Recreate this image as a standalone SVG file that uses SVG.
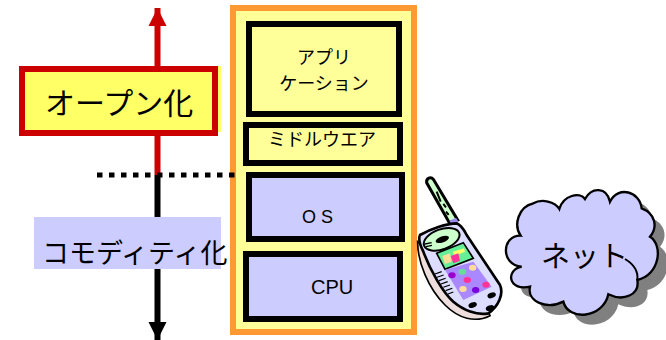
<svg xmlns="http://www.w3.org/2000/svg" width="666" height="340" viewBox="0 0 666 340">
<style>
text{font-family:"Noto Sans CJK JP","Liberation Sans",sans-serif;fill:#000}
.lat{font-family:"Liberation Sans",Arial,sans-serif}
.box{stroke:#000;stroke-width:6}
.y{fill:#ffff99}
.l{fill:#ccccff}
</style>
<defs>
<marker id="ar" markerUnits="userSpaceOnUse" markerWidth="19" markerHeight="19" refX="18" refY="9.5" orient="auto"><path d="M0,0.5L18,9.5L0,18.5Z" fill="#cc0000"/></marker>
<marker id="ab" markerUnits="userSpaceOnUse" markerWidth="19" markerHeight="19" refX="18" refY="9.5" orient="auto"><path d="M0,0.5L18,9.5L0,18.5Z" fill="#000"/></marker>
<path id="cl" d="M62,152C40,120 55,65 100,55C125,40 165,50 178,72C190,30 240,20 255,42C275,5 320,5 330,50C355,0 420,20 425,70C465,85 475,125 450,155C490,180 480,270 412,285C420,330 370,350 325,328C310,400 205,410 190,350C140,375 80,350 90,305C25,320 15,255 65,245C0,240 5,150 62,152Z"/>
</defs>
<g id="connectors">
<line x1="157.5" y1="175" x2="157.5" y2="8" stroke="#cc0000" stroke-width="6" marker-end="url(#ar)"/>
<line x1="157.5" y1="175" x2="157.5" y2="340" stroke="#000" stroke-width="6" marker-end="url(#ab)"/>
</g>
<g id="open">
<rect x="22" y="66" width="199" height="66" fill="#ffff66"/>
<rect x="22" y="69" width="193" height="64" fill="#ffff66" stroke="#cc0000" stroke-width="6"/>
<text x="45" y="114" font-size="30">オープン化</text>
</g>
<g id="commodity">
<rect x="34" y="217" width="187" height="52" fill="#ccccff"/>
<text x="42" y="263" font-size="27">コモディティ化</text>
</g>
<g id="stack">
<rect x="233" y="8" width="181" height="324" fill="#ffff99" stroke="#ff9933" stroke-width="6"/>
</g>
<g id="app">
<rect class="box y" x="249" y="24" width="150" height="90"/>
<text x="324" y="64" font-size="18" text-anchor="middle">アプリ</text>
<text x="324" y="90" font-size="18" text-anchor="middle">ケーション</text>
</g>
<g id="middleware">
<rect class="box y" x="246" y="125" width="154" height="38"/>
<text x="268" y="146" font-size="18">ミドルウエア</text>
</g>
<g id="os">
<rect class="box l" x="249" y="175" width="153" height="64"/>
<text class="lat" x="302" y="223" font-size="18">O S</text>
</g>
<g id="cpu">
<rect class="box l" x="246" y="254" width="154" height="65"/>
<text class="lat" x="311" y="294" font-size="20">CPU</text>
</g>
<line id="divider" x1="97" y1="175" x2="235" y2="175" stroke="#000" stroke-width="5" stroke-dasharray="5.5 6.5"/>
<g id="phone" transform="translate(410 170) scale(.3333)">
<path fill="#ccffcc" stroke="#000" stroke-width="9" d="M50,38C48,25 62,18 70,28L143,150L118,158Z"/>
<path d="M118,152L138,143L146,156L124,162Z" fill="#9988ee"/>
<path d="M80,65L92,95M100,102L108,112M108,125L116,135" stroke="#000" stroke-width="6" fill="none"/>
<path d="M23,215C22,275 55,355 105,405C145,445 195,460 240,437L200,350Z" fill="#eedddd" stroke="#000" stroke-width="5"/>
<path d="M30,195C60,178 110,160 140,160C152,165 160,175 170,195L270,345C282,372 265,410 235,430C200,437 160,420 130,395C100,370 60,300 40,245C30,225 25,205 30,195Z" fill="#ddddff" stroke="#000" stroke-width="8"/>
<ellipse cx="95" cy="208" rx="56" ry="30" transform="rotate(-20 95 208)" fill="#ccffcc" stroke="#000" stroke-width="6"/>
<ellipse cx="97" cy="208" rx="21" ry="9" transform="rotate(-20 97 208)" fill="#000"/>
<path d="M45,222L65,218M48,230L66,226" stroke="#000" stroke-width="4"/>
<path d="M80,250L160,218L190,265L105,298Z" fill="#66ee99" stroke="#000" stroke-width="5"/>
<path d="M128,245L162,235L165,245L133,258Z" fill="#ffff66"/>
<path d="M97,258L120,250L125,275L105,282Z" fill="#ffdd99"/>
<path d="M122,258L145,250L150,272L130,280Z" fill="#ff3399"/>
<path d="M105,300L190,275L245,350L160,390Z" fill="#aa88ff"/>
<ellipse cx="126" cy="316" rx="11" ry="9" fill="#9900cc"/>
<ellipse cx="157" cy="305" rx="11" ry="9" fill="#66dd99"/>
<ellipse cx="188" cy="293" rx="11" ry="9" fill="#ffdd99"/>
<ellipse cx="172" cy="330" rx="11" ry="9" fill="#ff3399"/>
<ellipse cx="159" cy="357" rx="11" ry="9" fill="#ffdd99"/>
<ellipse cx="197" cy="360" rx="11" ry="9" fill="#7700dd"/>
<ellipse cx="228" cy="344" rx="11" ry="9" fill="#ff3399"/>
<path d="M75,312L95,305M81,322L101,315M87,332L107,325M93,342L113,335M100,352L120,345M107,362L127,355M114,372L130,366" stroke="#000" stroke-width="3.5"/>
<ellipse cx="245" cy="376" rx="13" ry="8" transform="rotate(-20 245 376)" fill="#000"/>
<ellipse cx="188" cy="405" rx="13" ry="8" transform="rotate(-20 188 405)" fill="#000"/>
<ellipse cx="240" cy="414" rx="13" ry="8" transform="rotate(-20 240 414)" fill="#000"/>
</g>
<g id="net">
<g transform="translate(510 195) scale(.3333)"><use href="#cl" fill="#808080"/></g>
<g transform="translate(500 185) scale(.3333)"><use href="#cl" fill="#ccccff" stroke="#000" stroke-width="7"/><path d="M375,222C405,240 415,262 412,285" fill="none" stroke="#000" stroke-width="6"/></g>
<text x="541" y="267" font-size="29">ネット</text>
</g>
</svg>
